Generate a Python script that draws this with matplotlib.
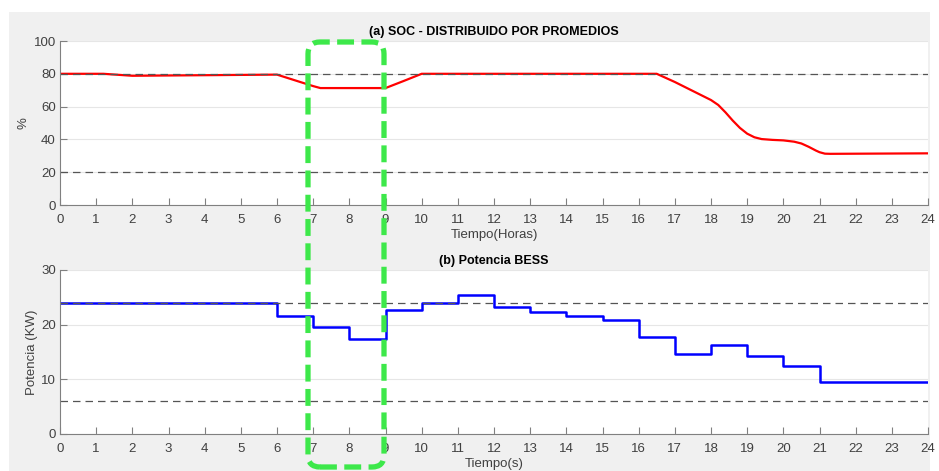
import matplotlib.pyplot as plt
from matplotlib.patches import Rectangle, FancyBboxPatch

plt.rcParams['font.family'] = ['Liberation Sans', 'DejaVu Sans']

# SOC curve (hours, %)
soc_t = [0, 1.2, 2.0, 6.0, 6.5, 7.0, 7.2, 9.0, 9.5, 10.0, 16.5, 17.0, 17.5,
         18.0, 18.2, 18.4, 18.6, 18.8, 19.0, 19.2, 19.4, 19.7, 20.0, 20.3,
         20.5, 20.7, 20.9, 21.0, 21.15, 21.3, 24]
soc = [80, 80, 78.8, 79.5, 76.0, 72.5, 71.3, 71.3, 75.6, 80, 80, 75, 69.5,
       64, 61, 56.5, 51.5, 47, 43.5, 41.3, 40.2, 39.7, 39.4, 38.6,
       37.5, 35.5, 33.2, 32.2, 31.3, 31.2, 31.5]
soc_limits = [80, 20]

# BESS power steps (hour at which each level starts, kW)
p_t = [0, 6, 7, 8, 9, 10, 11, 12, 13, 14, 15, 16, 17, 18, 19, 20, 21, 24]
p_kw = [24.0, 21.6, 19.5, 17.4, 22.7, 24.0, 25.4, 23.3, 22.4, 21.5, 20.9,
        17.7, 14.6, 16.2, 14.3, 12.4, 9.6, 9.6]
p_limits = [24, 6]

hours = list(range(0, 25))

fig = plt.figure(figsize=(9.39, 4.71), dpi=100)
fig.patch.set_facecolor('white')
# matlab-ish gray panel
fig.patches.append(Rectangle((9, 0), 921, 459, transform=None,
                             facecolor='#f0f0f0', edgecolor='none', zorder=-10))

ax1 = fig.add_axes([60/939, (471-205)/471, 868/939, 164/471])
ax2 = fig.add_axes([60/939, (471-434)/471, 868/939, 164/471])

def style(ax):
    ax.set_facecolor('white')
    for s in ['top', 'right']:
        ax.spines[s].set_visible(False)
    for s in ['left', 'bottom']:
        ax.spines[s].set_color('#808080')
        ax.spines[s].set_linewidth(0.8)
    ax.tick_params(direction='in', length=5, colors='#808080', labelcolor='#404040',
                   labelsize=9.5, width=0.8)
    ax.tick_params(axis='x', pad=6.5)
    ax.tick_params(axis='y', pad=3)
    ax.grid(axis='y', color='#e6e6e6', linewidth=0.8)
    ax.set_axisbelow(True)
    ax.set_xlim(0, 24)
    ax.set_xticks(hours)

style(ax1)
ax1.plot(soc_t, soc, color='red', linewidth=1.6)
for v in soc_limits:
    ax1.axhline(v, color='#555555', linestyle=(0, (6, 4)), linewidth=0.9)
ax1.set_ylim(0, 100)
ax1.set_yticks([0, 20, 40, 60, 80, 100])
ax1.set_title('(a) SOC - DISTRIBUIDO POR PROMEDIOS', fontsize=9, fontweight='bold', pad=4)
ax1.set_xlabel('Tiempo(Horas)', fontsize=9.5, color='#404040', labelpad=2)
ax1.set_ylabel('%', fontsize=9.5, color='#404040', labelpad=3)

style(ax2)
ax2.step(p_t, p_kw, where='post', color='blue', linewidth=1.8)
for v in p_limits:
    ax2.axhline(v, color='#555555', linestyle=(0, (6, 4)), linewidth=0.9)
ax2.set_ylim(0, 30)
ax2.set_yticks([0, 10, 20, 30])
ax2.set_title('(b) Potencia BESS', fontsize=9, fontweight='bold', pad=4)
ax2.set_xlabel('Tiempo(s)', fontsize=9.5, color='#404040', labelpad=2)
ax2.set_ylabel('Potencia (KW)', fontsize=9.5, color='#404040', labelpad=2)

# green highlight box (pixel coords, origin bottom-left)
box = FancyBboxPatch((308, 471-467), 76, 425, boxstyle='round,pad=0,rounding_size=12',
                     transform=None, fill=False, edgecolor='#3de84a', linewidth=3.8,
                     linestyle=(0, (3.2, 1.4)), zorder=10)
fig.patches.append(box)

fig.savefig('out.png', dpi=100)
